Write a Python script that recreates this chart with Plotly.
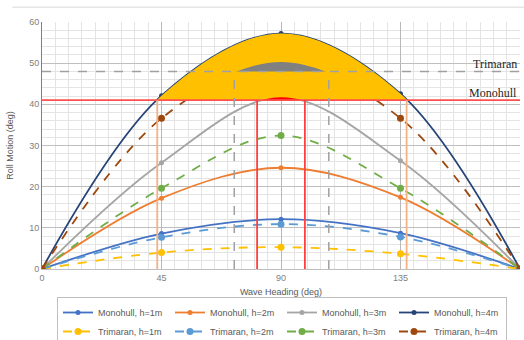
import plotly.graph_objects as go

# ---------------- data ----------------
headings = [0, 45, 90, 135, 180]
x_ticks = [0, 45, 90, 135, 180]

mono_h1 = [0, 8.6, 12.1, 8.7, 0]
mono_h2 = [0, 17.2, 24.6, 17.4, 0]
mono_h3 = [0, 25.8, 41.7, 26.3, 0]
mono_h4 = [0, 42.1, 57.2, 42.6, 0]
tri_h1 = [0, 4.0, 5.3, 3.7, 0]
tri_h2 = [0, 7.7, 10.9, 7.8, 0]
tri_h3 = [0, 19.6, 32.4, 19.6, 0]
tri_h4 = [0, 36.6, 50.3, 36.6, 0]

monohull_limit = 41
trimaran_limit = 48
mono_h4_cross = [43.4, 137.3]   # orange verticals
mono_h3_cross = [81, 99]        # red verticals
tri_h4_cross = [72.4, 108]      # grey dashed verticals

y_max = 60
x_max = 180

# ---------------- styling ----------------
C = {
    "m1": "#4472C4", "m2": "#ED7D31", "m3": "#A5A5A5", "m4": "#264478",
    "t1": "#FFC000", "t2": "#5B9BD5", "t3": "#70AD47", "t4": "#9E480E",
}
FONT = "Liberation Sans"

fig = go.Figure()

series = [
    ("Monohull, h=1m", mono_h1, C["m1"], "solid", 5),
    ("Monohull, h=2m", mono_h2, C["m2"], "solid", 5),
    ("Monohull, h=3m", mono_h3, C["m3"], "solid", 5),
    ("Monohull, h=4m", mono_h4, C["m4"], "solid", 5),
    ("Trimaran, h=1m", tri_h1, C["t1"], "dash", 7),
    ("Trimaran, h=2m", tri_h2, C["t2"], "dash", 7),
    ("Trimaran, h=3m", tri_h3, C["t3"], "dash", 7),
    ("Trimaran, h=4m", tri_h4, C["t4"], "dash", 7),
]
for name, ys, col, dash, msz in series:
    fig.add_trace(go.Scatter(
        x=headings, y=ys, name=name, mode="lines+markers",
        line=dict(color=col, width=1.8, dash=dash, shape="spline", smoothing=1),
        marker=dict(color=col, size=msz, symbol="circle"),
        hoverinfo="skip",
    ))

# fills above limits (clipped in overlay subplots)
fig.add_trace(go.Scatter(
    x=headings, y=mono_h4, mode="lines", fill="tozeroy", fillcolor="#FFC000",
    line=dict(width=0, shape="spline", smoothing=1, simplify=False),
    xaxis="x2", yaxis="y2", showlegend=False, hoverinfo="skip"))
fig.add_trace(go.Scatter(
    x=headings, y=mono_h3, mode="lines", fill="tozeroy", fillcolor="#FF0000",
    line=dict(width=0, shape="spline", smoothing=1, simplify=False),
    xaxis="x2", yaxis="y2", showlegend=False, hoverinfo="skip"))
fig.add_trace(go.Scatter(
    x=headings, y=tri_h4, mode="lines", fill="tozeroy", fillcolor="#808080",
    line=dict(width=0, shape="spline", smoothing=1, simplify=False),
    xaxis="x3", yaxis="y3", showlegend=False, hoverinfo="skip"))

shapes = []
shapes.append(dict(type="line", xref="x", yref="y", x0=0, x1=x_max,
                   y0=trimaran_limit, y1=trimaran_limit, layer="above",
                   line=dict(color="#A0A0A0", width=1.5, dash="dash")))
shapes.append(dict(type="line", xref="x", yref="y", x0=0, x1=x_max,
                   y0=monohull_limit, y1=monohull_limit, layer="above",
                   line=dict(color="#FF5050", width=1.8)))
for xv in mono_h4_cross:
    shapes.append(dict(type="line", xref="x", yref="y", x0=xv, x1=xv,
                       y0=0, y1=monohull_limit, layer="above",
                       line=dict(color="#F4B183", width=1.8)))
for xv in mono_h3_cross:
    shapes.append(dict(type="line", xref="x", yref="y", x0=xv, x1=xv,
                       y0=0, y1=monohull_limit, layer="above",
                       line=dict(color="#FF4040", width=1.8)))
for xv in tri_h4_cross:
    shapes.append(dict(type="line", xref="x", yref="y", x0=xv, x1=xv,
                       y0=0, y1=trimaran_limit, layer="above",
                       line=dict(color="#A0A0A0", width=1.5, dash="dash")))
shapes.append(dict(type="line", xref="paper", yref="paper", x0=-0.062, x1=1.02,
                   y0=1.06, y1=1.06, line=dict(color="#D9D9D9", width=1)))

annotations = [
    dict(text="Trimaran", x=x_max, y=trimaran_limit, xref="x", yref="y",
         xanchor="right", yanchor="bottom", showarrow=False, xshift=-1, yshift=-2,
         font=dict(family="Liberation Serif", size=12, color="#262626")),
    dict(text="Monohull", x=x_max, y=monohull_limit, xref="x", yref="y",
         xanchor="right", yanchor="bottom", showarrow=False, xshift=-1, yshift=-2,
         font=dict(family="Liberation Serif", size=12, color="#262626")),
]

fig.update_layout(
    width=524, height=340,
    margin=dict(l=42, r=4, t=22, b=71),
    paper_bgcolor="white", plot_bgcolor="rgba(0,0,0,0)",
    font=dict(family=FONT, size=9, color="#808080"),
    shapes=shapes, annotations=annotations,
    xaxis=dict(
        range=[0, x_max], tickvals=x_ticks, ticktext=[str(v) for v in x_ticks],
        showgrid=True, gridcolor="#B8B8B8", gridwidth=1,
        minor=dict(dtick=5, showgrid=True, gridcolor="#E4E4E4", gridwidth=1),
        showline=True, linecolor="#BFBFBF", linewidth=1, zeroline=False,
        ticks="", tickfont=dict(size=9, color="#808080"),
        title=dict(text="Wave Heading (deg)", font=dict(size=9, color="#595959"), standoff=11),
        automargin=False,
        fixedrange=True,
    ),
    yaxis=dict(
        range=[0, y_max], dtick=10,
        showgrid=True, gridcolor="#BFBFBF", gridwidth=1,
        minor=dict(dtick=2, showgrid=True, gridcolor="#E4E4E4", gridwidth=1),
        showline=True, linecolor="#7F7F7F", linewidth=1, zeroline=False,
        ticks="", tickfont=dict(size=9, color="#808080"),
        title=dict(text="Roll Motion (deg)", font=dict(size=9, color="#595959"), standoff=14),
        automargin=False,
        fixedrange=True,
    ),
    xaxis2=dict(domain=[0, 1], range=[0, x_max], visible=False, anchor="y2", fixedrange=True),
    yaxis2=dict(domain=[monohull_limit / y_max, 1], range=[monohull_limit, y_max],
                visible=False, anchor="x2", fixedrange=True),
    xaxis3=dict(domain=[0, 1], range=[0, x_max], visible=False, anchor="y3", fixedrange=True),
    yaxis3=dict(domain=[trimaran_limit / y_max, 1], range=[trimaran_limit, y_max],
                visible=False, anchor="x3", fixedrange=True),
    legend=dict(
        orientation="h", xref="container", yref="container",
        x=57 / 524, y=1 - 297 / 340, xanchor="left", yanchor="top",
        bordercolor="#BFBFBF", borderwidth=1, bgcolor="white",
        font=dict(size=9, color="#595959"),
        entrywidth=67, entrywidthmode="pixels", itemwidth=30,
        tracegroupgap=0,
    ),
    showlegend=True,
)

fig.write_html(
    "out.html",
    config={"displayModeBar": False},
    post_script="document.body.style.margin='0';document.body.style.overflow='hidden';",
)
